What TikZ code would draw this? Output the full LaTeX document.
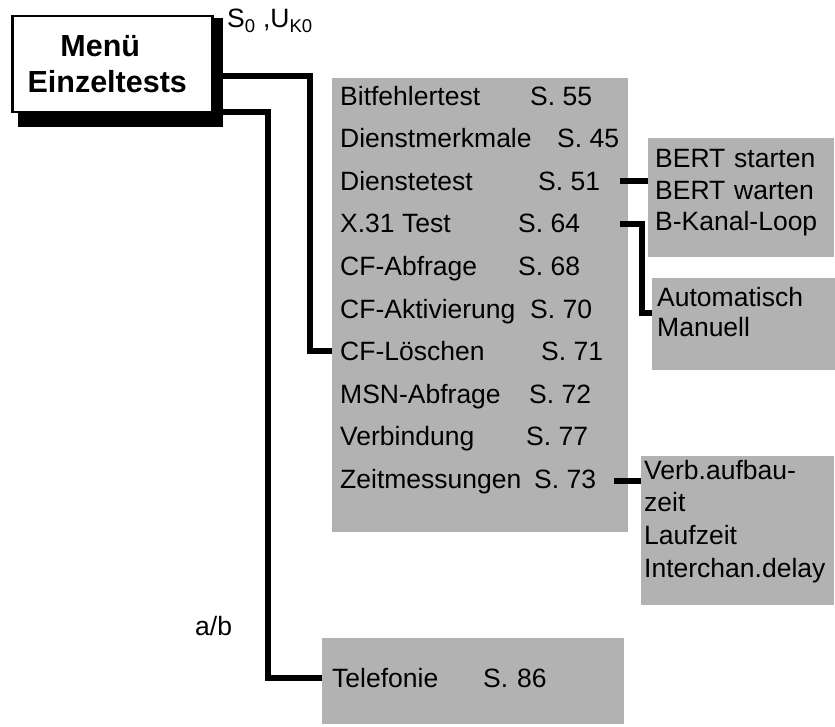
\documentclass[tikz,border=0pt]{standalone}
\usepackage{fontspec}
\setmainfont{Liberation Sans}
\definecolor{kastengrau}{RGB}{178,178,178}

\begin{document}
\begin{tikzpicture}[x=1pt, y=-1pt,
  every node/.style = {inner sep=0pt, font=\fontsize{26.5}{30}\selectfont},
  kasten/.style = {fill=kastengrau, anchor=north west, align=left},
  zeile/.style = {anchor=base west},
  leitung/.style = {line width=6pt, black}]
  \useasboundingbox (0,0) rectangle (835,727);

  \node (MEs) [fill=black, anchor=north west, minimum width=205pt, minimum height=109pt] at (18,18) {};
  \node (ME)  [draw=black, line width=2.5pt, fill=white, anchor=north west,
    minimum width=200pt, minimum height=96pt, align=center,
    font=\fontsize{30.5}{36}\selectfont\bfseries] at (11,15) {Menü\hspace*{24pt}\\Einzeltests\hspace*{10pt}};
  \node (SU)  [anchor=base west] at (227,28) {S\textsubscript{0} ,U\textsubscript{K0}};
  \node (AB)  [anchor=base west] at (195,635) {a/b};

  \node (BTL) [kasten, minimum width=296pt, minimum height=454pt] at (332,78) {};
  \node (BT)  [zeile] at (340,105.5) {\makebox[190pt][l]{Bitfehlertest}S. 55};
  \node (DM)  [zeile] at (340,148)   {\makebox[217pt][l]{Dienstmerkmale}S. 45};
  \node (DT)  [zeile] at (340,190.5) {\makebox[198pt][l]{Dienstetest}S. 51};
  \node (XT)  [zeile] at (340,233)   {\makebox[178pt][l]{X.31 Test}S. 64};
  \node (CFA) [zeile] at (340,275.5) {\makebox[178pt][l]{CF-Abfrage}S. 68};
  \node (CFK) [zeile] at (340,318)   {\makebox[190pt][l]{CF-Aktivierung}S. 70};
  \node (CFL) [zeile] at (340,360.5) {\makebox[201pt][l]{CF-Löschen}S. 71};
  \node (MSN) [zeile] at (340,403)   {\makebox[189pt][l]{MSN-Abfrage}S. 72};
  \node (VB)  [zeile] at (340,445.5) {\makebox[186pt][l]{Verbindung}S. 77};
  \node (ZM)  [zeile] at (340,488)   {\makebox[194pt][l]{Zeitmessungen}S. 73};

  \node (BK)  [kasten, text width=172pt, inner xsep=7pt, text height=29.5pt, text depth=89.5pt,
    font=\fontsize{26.5}{31.5}\selectfont] at (648,138) {BERT starten\\BERT warten\\B-Kanal-Loop};
  \node (AK)  [kasten, text width=173pt, inner xsep=5pt, text height=28.5pt, text depth=63.5pt]
    at (652,278) {Automatisch\\Manuell};
  \node (ZK)  [kasten, text width=187pt, inner xsep=3pt, text height=23pt, text depth=126pt,
    font=\fontsize{26.5}{32.7}\selectfont] at (641,456) {Verb.aufbau-\\zeit\\Laufzeit\\Interchan.delay};
  \node (TEL) [kasten, text width=282pt, inner xsep=10pt, text height=49pt, text depth=37pt]
    at (322,638) {\makebox[151pt][l]{Telefonie}S. 86};

  \coordinate (KA) at (310,76);
  \coordinate (KB) at (268,112);
  \coordinate (KC) at (642,313);
  \coordinate (BTLr) at ([xshift=-8pt]BTL.east);
  \coordinate (BTLz) at ([xshift=-14pt]BTL.east);

  \draw [leitung]
    (MEs.east |- KA) -- (KA) |- (BTL.west |- CFL)
    (MEs.east |- KB) -- (KB) |- (TEL.west |- 0,678);
  \draw [leitung] (BTLr |- DT) -- (BK.west |- DT);
  \draw [leitung] (BTLr |- XT) -| (KC) -- (AK.west |- KC);
  \draw [leitung] (BTLz |- ZM) -- (ZK.west |- ZM);
\end{tikzpicture}
\end{document}
